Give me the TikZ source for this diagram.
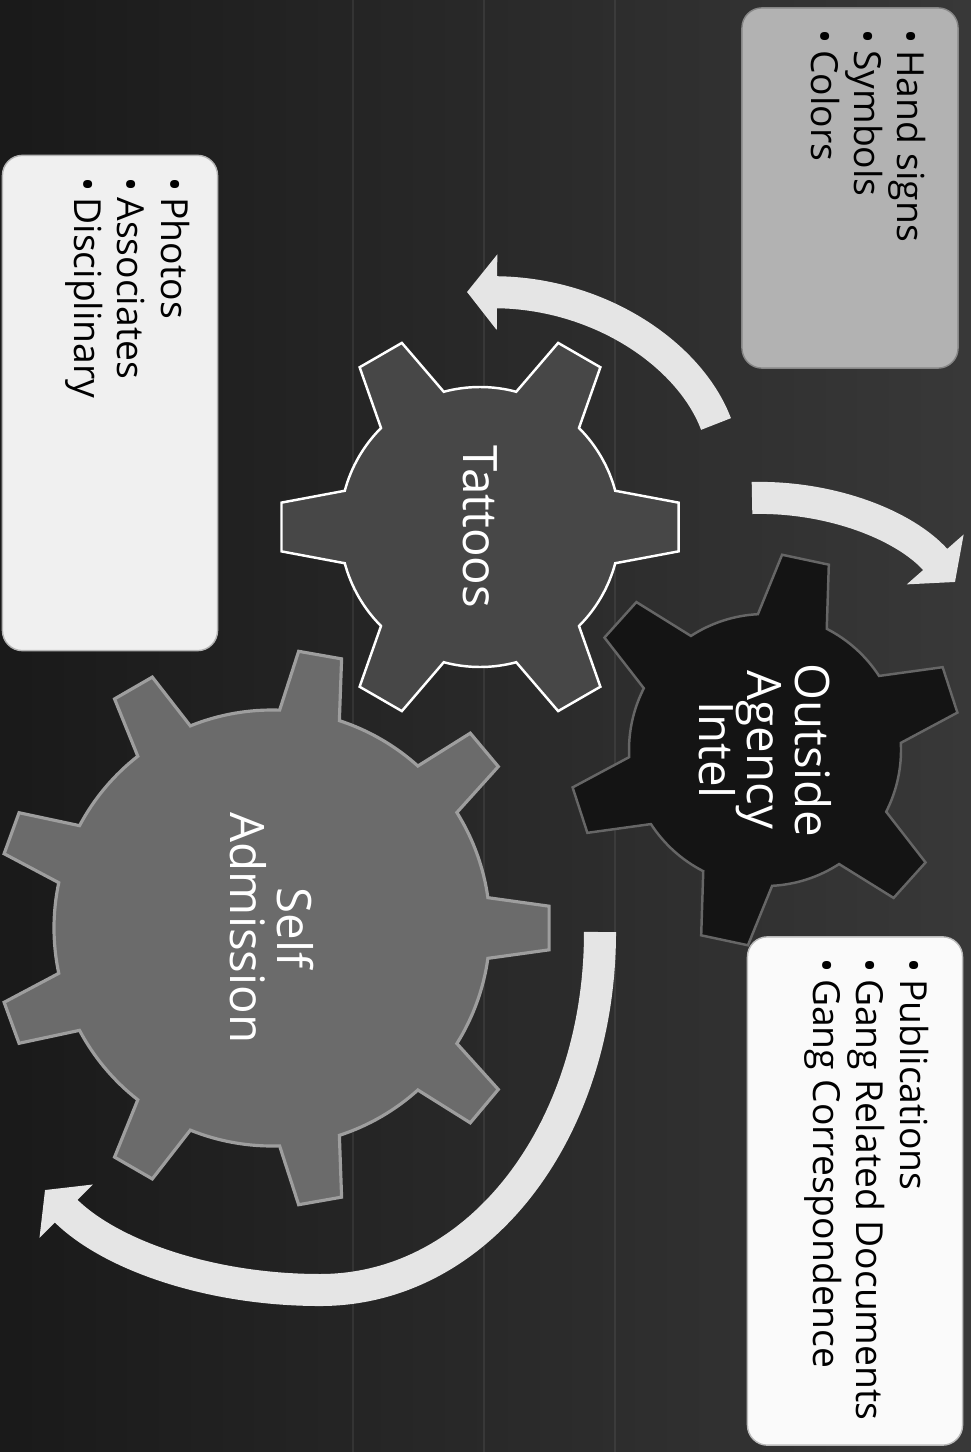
\documentclass[tikz,border=0pt]{standalone}
\usepackage{fontspec}
\setmainfont{Open Sans}
\usetikzlibrary{calc,arrows.meta}

\colorlet{handgray}{black!30}
\colorlet{photogray}{black!6}
\colorlet{pubgray}{black!2}

% cog: style, centre, teeth, body r, tip r, base half-angle, tip half-angle, offset
\newcommand{\drawcog}[8]{%
  \draw[#1] ($(#2)+({#8-#6}:#4)$)
    \foreach \k in {1,...,#3}{
      -- ($(#2)+({#8+(\k-1)*360/#3-#7}:#5)$)
      -- ($(#2)+({#8+(\k-1)*360/#3+#7}:#5)$)
      -- ($(#2)+({#8+(\k-1)*360/#3+#6}:#4)$)
      arc[start angle={#8+(\k-1)*360/#3+#6}, end angle={#8+\k*360/#3-#6}, radius=#4]
    } -- cycle;}

\begin{document}
\begin{tikzpicture}[x=0.01cm, y=-0.01cm,
    notebox/.style={rounded corners=0.2cm, inner sep=0pt, draw=#1!75!black, fill=#1},
    listtext/.style={font=\fontsize{10.6}{12.3}\selectfont, align=left, rotate=-90,
        inner sep=0pt, anchor=north west},
    geartext/.style={text=white, font=\fontsize{13.5}{13.6}\selectfont, align=center, rotate=-90},
    bigarrow/.style={line width=0.32cm, draw=black!10, -{Triangle[width=0.74cm,length=0.3cm]}}]
    % background
    \shade[left color=black!90, right color=black!78] (0,0) rectangle (971,1452);
    \useasboundingbox (0,0) rectangle (971,1452);
    \foreach \x in {353, 484, 615} {
        \draw[white, opacity=0.07, line width=0.6pt] (\x,0) -- (\x,1452);
    }

    % gears
    \coordinate (outc) at (765,750);
    \coordinate (tatc) at (480,527);
    \coordinate (selfc) at (272,928);
    \drawcog{fill=black!92, draw=black!60, line width=0.7pt}{outc}{6}{136}{196}{15}{7}{-18}
    \drawcog{fill=black!72, draw=white!90, line width=0.7pt}{tatc}{6}{140}{200}{15}{7}{0}
    \drawcog{fill=black!58, draw=black!38, line width=0.9pt}{selfc}{9}{218}{278}{8}{4.5}{0}

    \node[geartext] (outside) at (outc) {Outside\\Agency\\Intel};
    \node[geartext] (tattoos) at (tatc) {Tattoos};
    \node[geartext] (self) at (selfc) {Self\\Admission};

    % arrows
    \coordinate (tatstart) at (716,424);
    \coordinate (tatend) at (467,292);
    \coordinate (outstart) at (752,498);
    \coordinate (outend) at (955,582);
    \coordinate (selfstart) at (600,932);
    \coordinate (selfend) at (45,1190);
    \draw[bigarrow] (tatstart) .. controls (690,355) and (600,293) .. (tatend);
    \draw[bigarrow] (outstart) .. controls (830,496) and (905,525) .. (outend);
    \draw[bigarrow] (selfstart) .. controls (600,1130) and (480,1290) .. (320,1290)
        .. controls (210,1290) and (110,1255) .. (selfend);

    % note boxes
    \node[notebox=handgray, minimum width=2.16cm, minimum height=3.6cm] (handbox) at (850,188) {};
    \node[listtext] (handlist) at ($(handbox.north east)+(-32,22)$)
        {\textbullet\,Hand signs\\\textbullet\,Symbols\\\textbullet\,Colors};
    \node[notebox=photogray, minimum width=2.15cm, minimum height=4.95cm] (photobox) at (110,403) {};
    \node[listtext] (photolist) at ($(photobox.north east)+(-28,22)$)
        {\textbullet\,Photos\\\textbullet\,Associates\\\textbullet\,Disciplinary};
    \node[notebox=pubgray, minimum width=2.15cm, minimum height=5.08cm] (pubbox) at (855,1191) {};
    \node[listtext] (publist) at ($(pubbox.north east)+(-34,22)$)
        {\textbullet\,Publications\\\textbullet\,Gang Related Documents\\\textbullet\,Gang Correspondence};
\end{tikzpicture}
\end{document}
